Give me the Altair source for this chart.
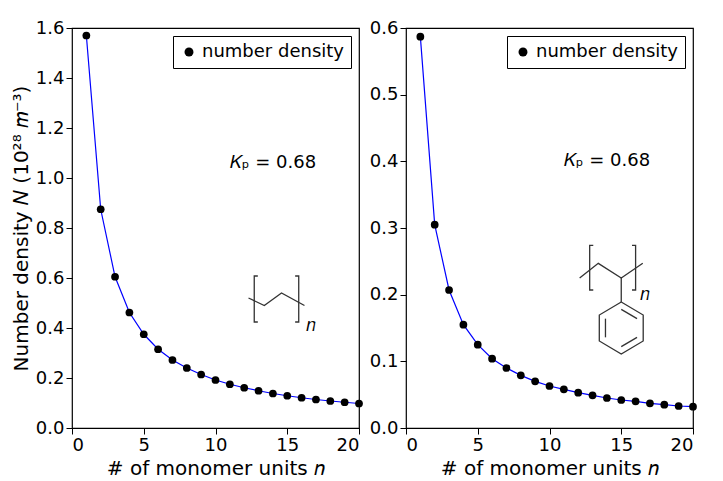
import altair as alt
import pandas as pd

n = list(range(1, 21))
left_vals = [1.57, 0.875, 0.605, 0.462, 0.375, 0.315, 0.272, 0.240, 0.214, 0.192,
             0.175, 0.161, 0.149, 0.138, 0.129, 0.121, 0.114, 0.108, 0.103, 0.098]
right_vals = [0.587, 0.305, 0.207, 0.155, 0.125, 0.104, 0.090, 0.079, 0.070, 0.063,
              0.058, 0.053, 0.049, 0.045, 0.042, 0.040, 0.037, 0.035, 0.033, 0.032]

# structure drawings (data coordinates): segment id, x, y
left_struct = [
    (0, 12.95, 0.608), (0, 12.7, 0.608), (0, 12.7, 0.424), (0, 12.95, 0.424),
    (1, 15.55, 0.608), (1, 15.8, 0.608), (1, 15.8, 0.424), (1, 15.55, 0.424),
    (2, 12.3, 0.52), (2, 13.4, 0.49), (2, 14.6, 0.54), (2, 16.2, 0.49),
]
right_struct = [
    (0, 13.05, 0.274), (0, 12.8, 0.274), (0, 12.8, 0.207), (0, 13.05, 0.207),
    (1, 15.75, 0.274), (1, 16.0, 0.274), (1, 16.0, 0.207), (1, 15.75, 0.207),
    (2, 12.1, 0.225), (2, 13.4, 0.247), (2, 15.0, 0.225), (2, 16.5, 0.247),
    (3, 15.0, 0.225), (3, 15.0, 0.189),
    (4, 15.0, 0.189), (4, 16.53, 0.1695), (4, 16.53, 0.1305), (4, 15.0, 0.111),
    (4, 13.47, 0.1305), (4, 13.47, 0.1695), (4, 15.0, 0.189),
    (5, 15.0, 0.178), (5, 16.1, 0.164),
    (6, 16.1, 0.136), (6, 15.0, 0.122),
    (7, 13.9, 0.136), (7, 13.9, 0.164),
]


def panel(vals, ymax, ystep, struct, kp_xy, sub_xy, ytitle):
    df = pd.DataFrame({"n": n, "v": vals, "s": "number density"})
    x = alt.X("n:Q", scale=alt.Scale(domain=[0, 20], nice=False),
              axis=alt.Axis(title="# of monomer units 𝑛", values=[0, 5, 10, 15, 20],
                            grid=False))
    y = alt.Y("v:Q", scale=alt.Scale(domain=[0, ymax], nice=False),
              axis=alt.Axis(title=ytitle, tickCount=int(round(ymax / ystep)) + 1,
                            grid=False, format=".1f"))
    line = alt.Chart(df).mark_line(color="blue", strokeWidth=1.2).encode(x=x, y=y)
    pts = alt.Chart(df).mark_point(filled=True, size=60, opacity=1).encode(
        x="n:Q", y="v:Q",
        color=alt.Color("s:N", scale=alt.Scale(range=["black"]),
                        legend=alt.Legend(title=None, orient="top-right",
                                          strokeColor="black", padding=7, offset=8,
                                          labelFontSize=18, symbolSize=80,
                                          symbolType="circle", labelFont="DejaVu Sans")))
    sdf = pd.DataFrame(struct, columns=["seg", "x", "y"])
    sdf["o"] = range(len(sdf))
    st = alt.Chart(sdf).mark_line(color="#333", strokeWidth=1.3).encode(
        x="x:Q", y="y:Q", detail="seg:N", order="o:Q")
    tdf = pd.DataFrame({"x": [kp_xy[0], sub_xy[0]], "y": [kp_xy[1], sub_xy[1]],
                        "t": ["𝐾ₚ = 0.68", "𝑛"]})
    txt = alt.Chart(tdf).mark_text(fontSize=18, font="DejaVu Sans", align="left").encode(
        x="x:Q", y="y:Q", text="t:N")
    return alt.layer(line, pts, st, txt).properties(width=287, height=400)


left = panel(left_vals, 1.6, 0.2, left_struct, (11.0, 1.06), (16.3, 0.41),
             "Number density 𝑁 (10²⁸ 𝑚⁻³)")
right = panel(right_vals, 0.6, 0.1, right_struct, (11.0, 0.4), (16.3, 0.2), "")

chart = alt.hconcat(left, right, spacing=4).resolve_scale(color="independent").configure_view(
    stroke="black", strokeWidth=1.2
).configure_axis(
    labelFontSize=18, titleFontSize=20, labelFont="DejaVu Sans", titleFont="DejaVu Sans",
    titleFontWeight="normal", domain=False, tickColor="black", labelColor="black",
    titleColor="black", tickSize=6
).properties(padding={"left": 2, "top": 10, "right": 2, "bottom": 2})

chart.save("out.html", embed_options={"renderer": "svg", "actions": False})
